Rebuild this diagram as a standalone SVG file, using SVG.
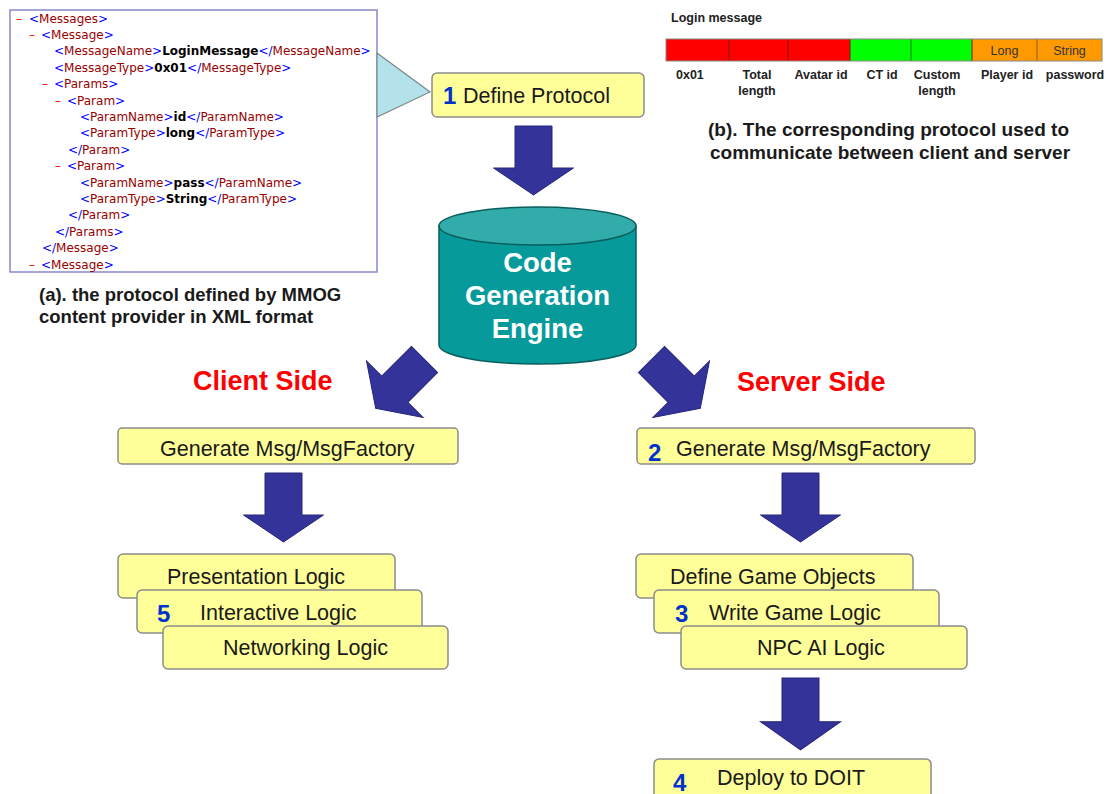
<svg xmlns="http://www.w3.org/2000/svg" xmlns:xlink="http://www.w3.org/1999/xlink" width="1110" height="794" viewBox="0 0 1110 794">
<style>
.xml{font-family:"DejaVu Sans",Verdana,sans-serif;font-size:12px}
.b{fill:#0000ff}
.t{fill:#990000}
.m{fill:#ff0000}
.v{fill:#000;font-weight:bold}
.box{fill:#ffff99;stroke:#8c8c8c;stroke-width:1.5}
.lbl{font-family:"Liberation Sans",Arial,sans-serif;font-size:21.5px;fill:#1a1a1a}
.num{font-family:"Liberation Sans",Arial,sans-serif;font-size:24px;font-weight:bold;fill:#0033cc}
.cap{font-family:"Liberation Sans",Arial,sans-serif;font-size:18.5px;font-weight:bold;fill:#1a1a1a}
.capb{font-family:"Liberation Sans",Arial,sans-serif;font-size:19px;font-weight:bold;fill:#1a1a1a}
.side{font-family:"Liberation Sans",Arial,sans-serif;font-size:27px;font-weight:bold;fill:#ff0000}
.small{font-family:"Liberation Sans",Arial,sans-serif;font-size:12.5px;font-weight:bold;fill:#222}
.arrow{fill:#333399;stroke:#26267a;stroke-width:1}
</style>
<defs>
<path id="arr" d="M-18.5,0 H18.5 V42 H40 L0,69 L-40,42 H-18.5 Z"/>
</defs>

<g id="xml-panel">
<rect x="10" y="10" width="367" height="262" fill="#fff" stroke="#8888cc" stroke-width="1.5"/>
<g class="xml">
<text x="16" y="22.5"><tspan class="m">–</tspan><tspan class="b" x="29">&lt;</tspan><tspan class="t">Messages</tspan><tspan class="b">&gt;</tspan></text>
<text x="29" y="38.9"><tspan class="m">–</tspan><tspan class="b" x="41">&lt;</tspan><tspan class="t">Message</tspan><tspan class="b">&gt;</tspan></text>
<text x="54" y="55.3"><tspan class="b">&lt;</tspan><tspan class="t">MessageName</tspan><tspan class="b">&gt;</tspan><tspan class="v">LoginMessage</tspan><tspan class="b">&lt;/</tspan><tspan class="t">MessageName</tspan><tspan class="b">&gt;</tspan></text>
<text x="54" y="71.7"><tspan class="b">&lt;</tspan><tspan class="t">MessageType</tspan><tspan class="b">&gt;</tspan><tspan class="v">0x01</tspan><tspan class="b">&lt;/</tspan><tspan class="t">MessageType</tspan><tspan class="b">&gt;</tspan></text>
<text x="42" y="88.1"><tspan class="m">–</tspan><tspan class="b" x="54">&lt;</tspan><tspan class="t">Params</tspan><tspan class="b">&gt;</tspan></text>
<text x="55" y="104.5"><tspan class="m">–</tspan><tspan class="b" x="67">&lt;</tspan><tspan class="t">Param</tspan><tspan class="b">&gt;</tspan></text>
<text x="80" y="120.9"><tspan class="b">&lt;</tspan><tspan class="t">ParamName</tspan><tspan class="b">&gt;</tspan><tspan class="v">id</tspan><tspan class="b">&lt;/</tspan><tspan class="t">ParamName</tspan><tspan class="b">&gt;</tspan></text>
<text x="80" y="137.3"><tspan class="b">&lt;</tspan><tspan class="t">ParamType</tspan><tspan class="b">&gt;</tspan><tspan class="v">long</tspan><tspan class="b">&lt;/</tspan><tspan class="t">ParamType</tspan><tspan class="b">&gt;</tspan></text>
<text x="68" y="153.7"><tspan class="b">&lt;/</tspan><tspan class="t">Param</tspan><tspan class="b">&gt;</tspan></text>
<text x="55" y="170.1"><tspan class="m">–</tspan><tspan class="b" x="67">&lt;</tspan><tspan class="t">Param</tspan><tspan class="b">&gt;</tspan></text>
<text x="80" y="186.5"><tspan class="b">&lt;</tspan><tspan class="t">ParamName</tspan><tspan class="b">&gt;</tspan><tspan class="v">pass</tspan><tspan class="b">&lt;/</tspan><tspan class="t">ParamName</tspan><tspan class="b">&gt;</tspan></text>
<text x="80" y="202.9"><tspan class="b">&lt;</tspan><tspan class="t">ParamType</tspan><tspan class="b">&gt;</tspan><tspan class="v">String</tspan><tspan class="b">&lt;/</tspan><tspan class="t">ParamType</tspan><tspan class="b">&gt;</tspan></text>
<text x="68" y="219.3"><tspan class="b">&lt;/</tspan><tspan class="t">Param</tspan><tspan class="b">&gt;</tspan></text>
<text x="55" y="235.7"><tspan class="b">&lt;/</tspan><tspan class="t">Params</tspan><tspan class="b">&gt;</tspan></text>
<text x="42" y="252.1"><tspan class="b">&lt;/</tspan><tspan class="t">Message</tspan><tspan class="b">&gt;</tspan></text>
<text x="29" y="268.5"><tspan class="m">–</tspan><tspan class="b" x="41">&lt;</tspan><tspan class="t">Message</tspan><tspan class="b">&gt;</tspan></text>
</g>
<text class="cap" x="39" y="301">(a). the protocol defined by MMOG</text>
<text class="cap" x="39" y="323">content provider in XML format</text>
</g>

<g id="callout">
<polygon points="377,53 430,92 377,117" fill="#b4e2ea" stroke="#7a8a8c" stroke-width="1.2"/>
</g>

<g id="protocol-panel">
<text class="small" x="671" y="22">Login message</text>
<rect x="666" y="39" width="184" height="22" fill="#ff0000"/>
<rect x="850" y="39" width="122" height="22" fill="#00ff00"/>
<rect x="972" y="39" width="130" height="22" fill="#ff9900"/>
<g stroke="#7a1a00" stroke-width="1">
<line x1="729" y1="39" x2="729" y2="61"/>
<line x1="788" y1="39" x2="788" y2="61"/>
<line x1="850" y1="39" x2="850" y2="61"/>
<line x1="911" y1="39" x2="911" y2="61" stroke="#2a7a2a"/>
<line x1="972" y1="39" x2="972" y2="61"/>
<line x1="1037" y1="39" x2="1037" y2="61" stroke="#8a5a00"/>
</g>
<rect x="666" y="39" width="436" height="22" fill="none" stroke="#888" stroke-width="1"/>
<text x="1004.5" y="55" text-anchor="middle" font-family="Liberation Sans, Arial, sans-serif" font-size="12.5" fill="#333">Long</text>
<text x="1069.5" y="55" text-anchor="middle" font-family="Liberation Sans, Arial, sans-serif" font-size="12.5" fill="#333">String</text>
<text class="small" x="676" y="79">0x01</text>
<text class="small" x="757" y="79" text-anchor="middle">Total</text>
<text class="small" x="757" y="95" text-anchor="middle">length</text>
<text class="small" x="821" y="79" text-anchor="middle">Avatar id</text>
<text class="small" x="882" y="79" text-anchor="middle">CT id</text>
<text class="small" x="937" y="79" text-anchor="middle">Custom</text>
<text class="small" x="937" y="95" text-anchor="middle">length</text>
<text class="small" x="1007" y="79" text-anchor="middle">Player id</text>
<text class="small" x="1075" y="79" text-anchor="middle">password</text>
<text class="capb" x="708" y="136">(b). The corresponding protocol used to</text>
<text class="capb" x="710" y="159">communicate between client and server</text>
</g>

<g id="define-protocol">
<rect class="box" x="432" y="73" width="212" height="44" rx="5"/>
<text class="num" x="443" y="104">1</text>
<text class="lbl" x="463" y="103">Define Protocol</text>
</g>

<g id="code-generation-engine">
<path d="M439,226 V345 A98.5,19 0 0 0 636,345 V226 Z" fill="#069a9a" stroke="#0b5e5e" stroke-width="1.5"/>
<ellipse cx="537.5" cy="226" rx="98.5" ry="19" fill="#32abab" stroke="#0b5e5e" stroke-width="1.5"/>
<g font-family="Liberation Sans, Arial, sans-serif" font-size="27.5" font-weight="bold" fill="#fff" text-anchor="middle">
<text x="537.5" y="272">Code</text>
<text x="537.5" y="305">Generation</text>
<text x="537.5" y="338">Engine</text>
</g>
</g>

<g id="client-side-label"><text class="side" x="193" y="390">Client Side</text></g>
<g id="server-side-label"><text class="side" x="737" y="391">Server Side</text></g>

<g id="client-generate">
<rect class="box" x="118" y="428" width="340" height="36" rx="4"/>
<text class="lbl" x="160" y="456">Generate Msg/MsgFactory</text>
</g>

<g id="server-generate">
<rect class="box" x="637" y="428" width="338" height="36" rx="4"/>
<text class="num" x="648" y="461">2</text>
<text class="lbl" x="676" y="456">Generate Msg/MsgFactory</text>
</g>

<g id="presentation-logic">
<rect class="box" x="118" y="554" width="277" height="44" rx="5"/>
<text class="lbl" x="167" y="584">Presentation Logic</text>
</g>
<g id="interactive-logic">
<rect class="box" x="137" y="590" width="285" height="43" rx="5"/>
<text class="num" x="157" y="622">5</text>
<text class="lbl" x="200" y="620">Interactive Logic</text>
</g>
<g id="networking-logic">
<rect class="box" x="163" y="626" width="285" height="43" rx="5"/>
<text class="lbl" x="223" y="655">Networking Logic</text>
</g>

<g id="define-game-objects">
<rect class="box" x="636" y="554" width="277" height="44" rx="5"/>
<text class="lbl" x="670" y="584">Define Game Objects</text>
</g>
<g id="write-game-logic">
<rect class="box" x="654" y="590" width="285" height="43" rx="5"/>
<text class="num" x="675" y="622">3</text>
<text class="lbl" x="709" y="620">Write Game Logic</text>
</g>
<g id="npc-ai-logic">
<rect class="box" x="681" y="626" width="286" height="43" rx="5"/>
<text class="lbl" x="757" y="655">NPC AI Logic</text>
</g>

<g id="deploy">
<rect class="box" x="654" y="759" width="277" height="50" rx="5"/>
<text class="num" x="673" y="791">4</text>
<text class="lbl" x="717" y="785">Deploy to DOIT</text>
</g>

<g id="connectors" class="arrow">
<use xlink:href="#arr" transform="translate(533.5,126)"/>
<use xlink:href="#arr" transform="translate(424.5,359.5) rotate(45)"/>
<use xlink:href="#arr" transform="translate(651.5,359.5) rotate(-45)"/>
<use xlink:href="#arr" transform="translate(283.5,473)"/>
<use xlink:href="#arr" transform="translate(800.5,473)"/>
<use xlink:href="#arr" transform="translate(800.5,678) scale(1,1.04)"/>
</g>
</svg>
